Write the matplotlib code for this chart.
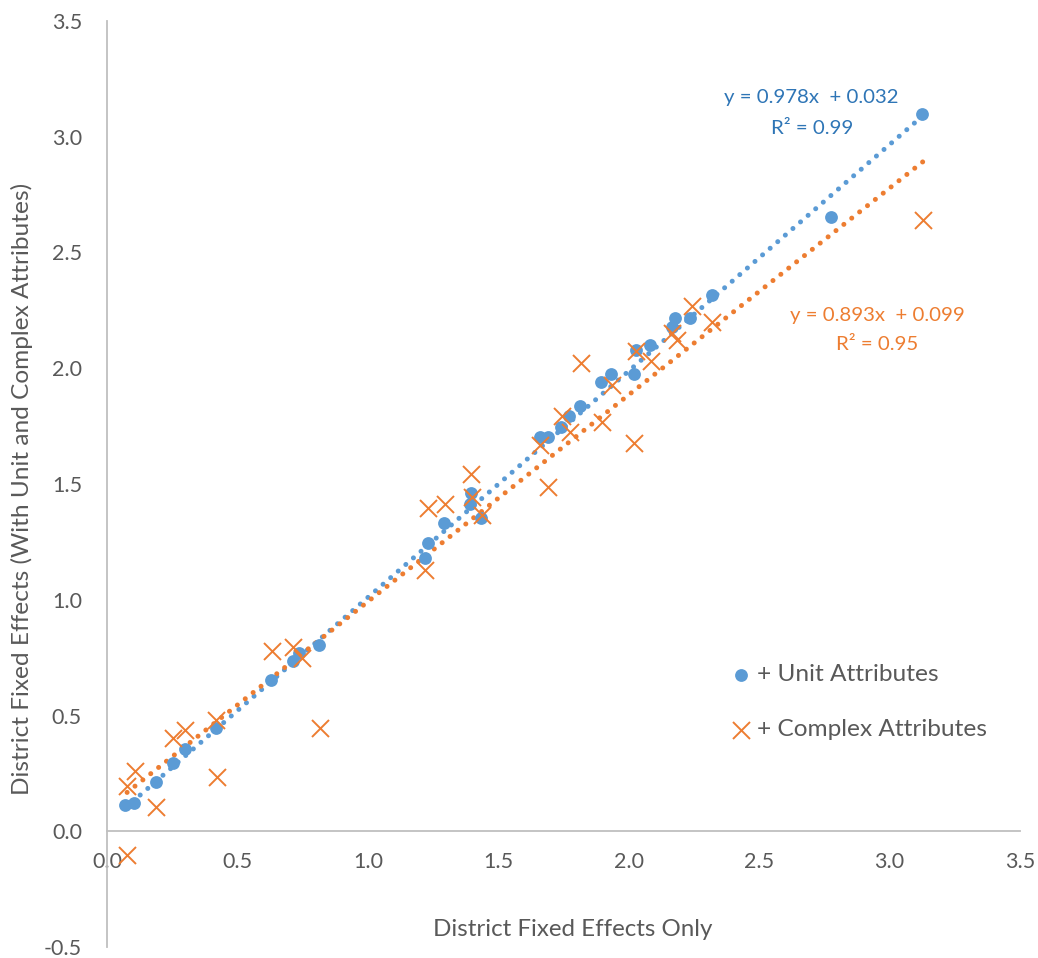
import matplotlib
matplotlib.use("Agg")
import matplotlib.pyplot as plt
import numpy as np

plt.rcParams['font.family'] = ['Lato', 'DejaVu Sans']

# ---- data ----
unit_x = [0.069, 0.103, 0.188, 0.253, 0.299, 0.418, 0.628, 0.713, 0.736, 0.812,
          1.218, 1.230, 1.291, 1.391, 1.395, 1.433, 1.659, 1.690, 1.739, 1.770,
          1.812, 1.893, 1.931, 2.019, 2.027, 2.080, 2.165, 2.176, 2.234, 2.318,
          2.774, 3.126]
unit_y = [0.112, 0.121, 0.212, 0.294, 0.354, 0.445, 0.652, 0.734, 0.769, 0.803,
          1.179, 1.244, 1.330, 1.413, 1.460, 1.352, 1.702, 1.702, 1.745, 1.793,
          1.836, 1.940, 1.974, 1.974, 2.078, 2.099, 2.177, 2.216, 2.216, 2.315,
          2.652, 3.097]

complex_x = [0.077, 0.077, 0.107, 0.188, 0.253, 0.299, 0.418, 0.421, 0.632, 0.713,
             0.747, 0.816, 1.218, 1.230, 1.295, 1.395, 1.398, 1.437, 1.659, 1.690,
             1.743, 1.774, 1.816, 1.897, 1.935, 2.019, 2.027, 2.084, 2.165, 2.184,
             2.241, 2.318, 3.130]
complex_y = [-0.104, 0.194, 0.259, 0.104, 0.402, 0.436, 0.479, 0.233, 0.778, 0.795,
             0.747, 0.445, 1.127, 1.395, 1.413, 1.542, 1.443, 1.365, 1.667, 1.486,
             1.793, 1.724, 2.022, 1.767, 1.927, 1.676, 2.073, 2.030, 2.151, 2.121,
             2.268, 2.199, 2.641]

series_names = ['+ Unit Attributes', '+ Complex Attributes']
trend_slopes = [0.978, 0.893]
trend_intercepts = [0.032, 0.099]
trend_r2 = [0.99, 0.95]

x_ticks = [0.0, 0.5, 1.0, 1.5, 2.0, 2.5, 3.0, 3.5]
y_ticks = [-0.5, 0.0, 0.5, 1.0, 1.5, 2.0, 2.5, 3.0, 3.5]
x_title = 'District Fixed Effects Only'
y_title = 'District Fixed Effects (With Unit and Complex Attributes)'

# ---- style ----
BLUE = '#5B9BD5'
ORANGE = '#ED7D31'
BLUE_TXT = '#2E75B6'
GRAY_TXT = '#595959'
AXIS_GRAY = '#BFBFBF'

fig = plt.figure(figsize=(10.38, 9.58), dpi=100)
ax = fig.add_axes([107/1038, 11/958, 913/1038, 926/958])
ax.set_xlim(0, 3.5)
ax.set_ylim(-0.5, 3.5)

# trendlines
for xs, slope, icpt, col in [(unit_x, trend_slopes[0], trend_intercepts[0], BLUE),
                              (complex_x, trend_slopes[1], trend_intercepts[1], ORANGE)]:
    xl = np.array([min(xs), max(xs)])
    ax.plot(xl, slope * xl + icpt, color=col, lw=3.6,
            linestyle=(0, (0.01, 2.0)), dash_capstyle='round', zorder=3)

ax.scatter(unit_x, unit_y, s=85, color=BLUE, marker='o', linewidths=0,
           label=series_names[0], zorder=4)
ax.scatter(complex_x, complex_y, s=150, color=ORANGE, marker='x', linewidths=1.4,
           label=series_names[1], zorder=4)

# spines
for s in ['top', 'right']:
    ax.spines[s].set_visible(False)
ax.spines['bottom'].set_position(('data', 0))
ax.spines['left'].set_position(('data', 0))
for s in ['bottom', 'left']:
    ax.spines[s].set_color(AXIS_GRAY)
    ax.spines[s].set_linewidth(1.3)

ax.set_xticks(x_ticks)
ax.set_yticks(y_ticks)
ax.set_xticklabels([f'{v:.1f}' for v in x_ticks])
ax.set_yticklabels([f'{v:.1f}' for v in y_ticks])
ax.tick_params(axis='x', length=0, pad=15, labelsize=15.5, labelcolor=GRAY_TXT)
ax.tick_params(axis='y', length=0, pad=18, labelsize=15.5, labelcolor=GRAY_TXT)

fig.text(573/1038, 1 - 930/958, x_title, ha='center', va='center',
         fontsize=17.4, color=GRAY_TXT)
fig.text(22/1038, 1 - 489/958, y_title, ha='center', va='center',
         rotation=90, fontsize=17.6, color=GRAY_TXT)

# trend equations
fig.text(811/1038, 1 - 98/958, f'y = {trend_slopes[0]:.3f}x  + {trend_intercepts[0]:.3f}',
         ha='center', va='center', fontsize=14.7, color=BLUE_TXT)
fig.text(812/1038, 1 - 129/958, f'R² = {trend_r2[0]:.2f}',
         ha='center', va='center', fontsize=14.7, color=BLUE_TXT)
fig.text(877/1038, 1 - 315/958, f'y = {trend_slopes[1]:.3f}x  + {trend_intercepts[1]:.3f}',
         ha='center', va='center', fontsize=14.7, color=ORANGE)
fig.text(877/1038, 1 - 344/958, f'R² = {trend_r2[1]:.2f}',
         ha='center', va='center', fontsize=14.7, color=ORANGE)

leg = ax.legend(loc='upper left', bbox_to_anchor=((728 - 107) / 913, 1 - (664 - 21) / 926),
                frameon=False, fontsize=17.6, labelspacing=1.38, handletextpad=0.1,
                handlelength=1.1, borderpad=0, borderaxespad=0, markerscale=1.0)
for t in leg.get_texts():
    t.set_color(GRAY_TXT)

fig.savefig('out.png', dpi=100)
